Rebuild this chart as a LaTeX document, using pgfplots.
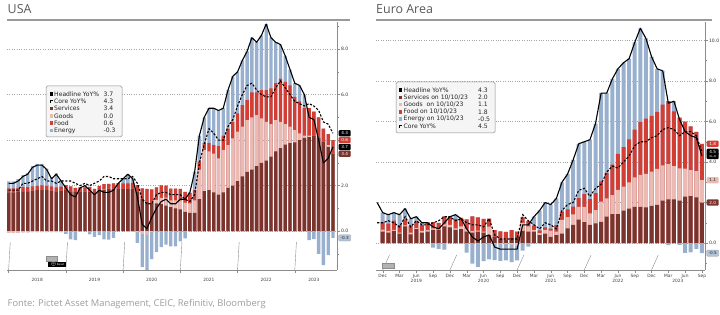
\documentclass[border=0pt]{standalone}
\usepackage{fontspec}
\setmainfont{DejaVu Sans}
\newfontfamily\titlefont{Open Sans}
\usepackage{pgfplots}
\usepackage{pgfplotstable}
\pgfplotsset{compat=1.18}

\definecolor{serv}{HTML}{7A342E}
\definecolor{goods}{HTML}{ECBAB2}
\definecolor{food}{HTML}{D23E34}
\definecolor{energy}{HTML}{98B0CE}
\definecolor{rulegray}{HTML}{9A9A9A}
\definecolor{titlegray}{HTML}{595959}
\definecolor{notegray}{HTML}{9C9C9C}

% USA: contributions to CPI YoY (pp), Dec 2017 (p=0) to Aug 2023 (p=68)
\pgfplotstableread{
p H C S G F E
0 2.1 1.8 1.70 -0.08 0.18 0.30
1 2.1 1.8 1.70 -0.08 0.18 0.30
2 2.2 1.8 1.72 -0.08 0.18 0.38
3 2.4 2.1 1.75 -0.06 0.18 0.53
4 2.5 2.1 1.75 -0.06 0.18 0.63
5 2.8 2.2 1.78 -0.05 0.18 0.89
6 2.9 2.3 1.80 -0.05 0.19 0.96
7 2.9 2.4 1.82 -0.05 0.19 0.94
8 2.7 2.2 1.80 -0.05 0.19 0.76
9 2.3 2.2 1.78 -0.05 0.19 0.38
10 2.5 2.1 1.75 -0.04 0.17 0.62
11 2.2 2.2 1.78 -0.04 0.17 0.29
12 1.9 2.2 1.80 -0.02 0.22 -0.10
13 1.6 2.2 1.75 0.00 0.21 -0.36
14 1.5 2.1 1.72 0.00 0.18 -0.40
15 1.9 2.0 1.72 0.00 0.20 -0.02
16 2.0 2.1 1.72 0.00 0.20 0.08
17 1.8 2.0 1.74 0.00 0.20 -0.14
18 1.6 2.1 1.64 0.00 0.21 -0.25
19 1.8 2.2 1.76 0.00 0.22 -0.18
20 1.7 2.4 1.82 0.02 0.22 -0.36
21 1.7 2.4 1.84 0.02 0.22 -0.38
22 1.8 2.3 1.85 0.00 0.25 -0.30
23 2.1 2.3 1.86 0.00 0.25 -0.01
24 2.3 2.3 1.85 0.00 0.25 0.20
25 2.5 2.3 1.85 -0.02 0.25 0.42
26 2.3 2.4 1.85 -0.02 0.27 0.20
27 1.5 2.1 1.72 -0.05 0.30 -0.47
28 0.3 1.4 1.40 -0.12 0.48 -1.46
29 0.1 1.2 1.30 -0.15 0.55 -1.60
30 0.6 1.2 1.25 -0.05 0.58 -1.18
31 1.0 1.6 1.22 0.15 0.55 -0.92
32 1.3 1.7 1.18 0.28 0.55 -0.71
33 1.4 1.7 1.12 0.35 0.53 -0.60
34 1.2 1.6 1.05 0.30 0.52 -0.67
35 1.2 1.6 1.00 0.35 0.52 -0.67
36 1.4 1.6 0.95 0.40 0.50 -0.45
37 1.4 1.4 0.85 0.40 0.47 -0.32
38 1.7 1.3 0.80 0.42 0.45 0.03
39 2.6 1.6 0.80 0.55 0.45 0.80
40 4.2 3.0 1.40 1.30 0.35 1.15
41 5.0 3.8 1.76 1.80 0.32 1.12
42 5.4 4.5 1.80 1.70 0.38 1.52
43 5.4 4.3 1.70 1.70 0.38 1.62
44 5.3 4.0 1.60 1.60 0.53 1.57
45 5.4 4.0 1.70 1.86 0.64 1.20
46 6.2 4.6 1.90 1.88 0.72 1.70
47 6.8 4.9 2.00 2.07 0.73 2.00
48 7.0 5.5 2.20 2.17 0.80 1.83
49 7.5 6.0 2.40 2.19 0.95 1.96
50 7.9 6.4 2.60 2.28 0.88 2.14
51 8.5 6.5 2.70 2.30 1.10 2.40
52 8.3 6.2 2.85 2.25 1.00 2.20
53 8.6 6.0 3.00 1.95 1.25 2.40
54 9.1 5.9 3.10 1.70 1.40 2.90
55 8.5 5.9 3.27 1.43 1.57 2.23
56 8.3 6.3 3.50 1.38 1.62 1.80
57 8.2 6.6 3.65 1.15 1.90 1.50
58 7.7 6.3 3.80 0.90 1.86 1.14
59 7.1 6.0 3.87 0.72 1.81 0.70
60 6.5 5.7 3.90 0.54 1.46 0.60
61 6.4 5.6 4.00 0.30 1.40 0.70
62 6.0 5.5 4.10 0.10 1.20 0.60
63 5.0 5.6 4.13 0.07 1.20 -0.40
64 4.9 5.5 4.20 0.00 1.05 -0.35
65 4.0 5.3 4.10 0.00 0.90 -1.00
66 3.0 4.8 3.93 0.00 0.57 -1.50
67 3.2 4.7 3.70 0.08 0.48 -1.06
68 3.7 4.3 3.40 0.00 0.60 -0.30
}\usdata

% Euro Area: contributions to HICP YoY (pp), Nov 2018 (m=-1) to Sep 2023 (m=57)
\pgfplotstableread{
m H C S G F E
-1 2.0 1.0 0 0 0 0
0 1.5 1.0 0.56 0.10 0.36 0.48
1 1.4 1.1 0.52 0.08 0.36 0.44
2 1.5 1.0 0.60 0.05 0.46 0.39
3 1.4 0.8 0.47 0.05 0.36 0.52
4 1.7 1.3 0.82 0.05 0.30 0.53
5 1.2 0.8 0.43 0.08 0.32 0.37
6 1.3 1.1 0.69 0.05 0.32 0.24
7 1.0 0.9 0.52 0.08 0.28 0.12
8 1.0 0.9 0.56 0.08 0.38 -0.02
9 0.8 1.0 0.65 0.08 0.30 -0.23
10 0.7 1.1 0.65 0.08 0.26 -0.29
11 1.0 1.3 0.82 0.10 0.40 -0.32
12 1.3 1.3 0.77 0.13 0.40 0.00
13 1.4 1.1 0.65 0.08 0.46 0.21
14 1.2 1.2 0.69 0.13 0.42 -0.04
15 0.7 1.0 0.56 0.13 0.48 -0.47
16 0.3 0.9 0.52 0.08 0.72 -1.02
17 0.1 0.9 0.56 0.05 0.66 -1.17
18 0.3 0.8 0.52 0.05 0.62 -0.89
19 0.4 1.2 0.39 0.42 0.40 -0.81
20 -0.2 0.4 0.30 -0.03 0.34 -0.81
21 -0.3 0.2 0.22 -0.03 0.36 -0.85
22 -0.3 0.2 0.17 -0.03 0.38 -0.82
23 -0.3 0.2 0.26 -0.08 0.38 -0.86
24 -0.3 0.2 0.30 -0.13 0.26 -0.73
25 0.9 1.4 0.60 0.39 0.28 -0.37
26 0.9 1.1 0.56 0.26 0.26 -0.18
27 1.3 0.9 0.56 0.08 0.22 0.44
28 1.6 0.7 0.39 0.10 0.14 0.97
29 2.0 1.0 0.47 0.18 0.12 1.23
30 1.9 0.9 0.30 0.31 0.10 1.19
31 2.2 0.7 0.39 0.18 0.32 1.31
32 3.0 1.6 0.47 0.68 0.40 1.45
33 3.4 1.9 0.73 0.55 0.38 1.74
34 4.1 2.0 0.90 0.52 0.38 2.30
35 4.9 2.6 1.16 0.62 0.44 2.68
36 5.0 2.7 1.03 0.75 0.64 2.58
37 5.1 2.3 0.90 0.57 0.70 2.93
38 5.9 2.7 0.97 0.66 0.84 3.43
39 7.4 2.9 1.05 1.00 1.00 4.35
40 7.4 3.5 1.30 0.90 1.26 3.94
41 8.1 3.8 1.43 0.94 1.50 4.23
42 8.6 3.7 1.43 1.19 1.78 4.20
43 8.9 4.0 1.60 1.18 1.96 4.16
44 9.1 4.3 1.70 1.30 2.12 3.98
45 9.9 4.8 1.79 1.45 2.36 4.30
46 10.6 5.0 1.79 1.57 2.62 4.62
47 10.1 5.0 1.76 1.66 2.72 3.96
48 9.2 5.2 1.83 1.69 2.76 2.92
49 8.6 5.3 1.88 1.78 2.82 2.12
50 8.5 5.6 2.10 1.73 3.00 1.67
51 6.9 5.7 2.16 1.74 3.10 -0.10
52 7.0 5.6 2.16 1.64 2.70 0.50
53 6.1 5.3 2.09 1.60 2.50 -0.09
54 5.5 5.5 2.29 1.38 2.32 -0.49
55 5.3 5.5 2.32 1.28 2.16 -0.46
56 5.2 5.3 2.26 1.29 1.94 -0.29
57 4.3 4.5 2.00 1.10 1.80 -0.50
}\eadata

\pgfplotsset{
  panel/.style={
    scale only axis, height=248bp, clip mode=individual,
    axis x line*=bottom, axis y line*=right,
    axis line style={draw=black!45, line width=0.4bp},
    tick style={draw=black!45, line width=0.4bp},
    tick align=outside, major tick length=3bp, minor tick length=1.5bp,
    ymajorgrids, grid style={dotted, black!35, line width=0.4bp},
    yticklabel style={font=\fontsize{4.6}{5}\selectfont, text=black!80, inner sep=0.8bp},
    xticklabel style={font=\fontsize{4.4}{5}\selectfont, text=black!75, inner sep=0.8bp},
    /pgf/number format/fixed, /pgf/number format/fixed zerofill,
    /pgf/number format/precision=1, /pgf/number format/assume math mode=true,
  },
  seg/.style={ybar, bar shift=0pt, fill=#1, draw=none},
  headline/.style={sharp plot, no markers, black, line width=1.1bp, line join=round},
  coreline/.style={sharp plot, no markers, black, line width=1.1bp, dash pattern=on 2.2bp off 1.6bp},
}
\tikzset{
  tag/.style={anchor=west, rounded corners=1bp, inner sep=0pt, minimum width=12bp,
    minimum height=6.3bp, font=\fontsize{4.2}{4.5}\selectfont, text=white, xshift=1.5bp},
  lgtext/.style={anchor=west, inner sep=0pt, font=\fontsize{6.1}{7}\selectfont, text=black!85},
  yearlab/.style={font=\fontsize{4.4}{5}\selectfont, text=black!75},
}

\begin{document}
\begin{tikzpicture}
\path[use as bounding box] (0bp,0bp) rectangle (720bp,315bp);

% ---------------- USA ----------------
\begin{axis}[panel, at={(7bp,45bp)}, anchor=south west, width=330bp,
  xmin=-0.34, xmax=68.85, ymin=-1.71, ymax=9.19,
  ytick={0,2,4,6,8}, minor ytick={-1,1,3,5,7,9},
  xtick={0,12,24,36,48,60}, xticklabels={}]
  \addplot[seg=energy, bar width=0.7] table[x=p, y expr={\thisrow{S}+max(\thisrow{G},0)+\thisrow{F}+max(\thisrow{E},0)}] {\usdata};
  \addplot[seg=food, bar width=0.7] table[x=p, y expr={\thisrow{S}+max(\thisrow{G},0)+\thisrow{F}}] {\usdata};
  \addplot[seg=goods, bar width=0.7] table[x=p, y expr={\thisrow{S}+max(\thisrow{G},0)}] {\usdata};
  \addplot[seg=serv, bar width=0.7] table[x=p, y=S] {\usdata};
  \addplot[seg=energy, bar width=0.7] table[x=p, y expr={min(\thisrow{G},0)+min(\thisrow{E},0)}] {\usdata};
  \addplot[seg=goods, bar width=0.7] table[x=p, y expr={min(\thisrow{G},0)}] {\usdata};
  \addplot[coreline] table[x=p, y=C] {\usdata};
  \addplot[headline] table[x=p, y=H] {\usdata};
  % year separators and labels
  \pgfplotsinvokeforeach{0,12,24,36,48,60}{
    \draw[black!45, line width=0.4bp] (axis cs:#1,-1.71) -- ++(0,-12bp);}
  \node[yearlab] at (axis cs:6,-1.71) [yshift=-10bp] {2018};
  \node[yearlab] at (axis cs:18,-1.71) [yshift=-10bp] {2019};
  \node[yearlab] at (axis cs:30,-1.71) [yshift=-10bp] {2020};
  \node[yearlab] at (axis cs:42,-1.71) [yshift=-10bp] {2021};
  \node[yearlab] at (axis cs:54,-1.71) [yshift=-10bp] {2022};
  \node[yearlab] at (axis cs:64,-1.71) [yshift=-10bp] {2023};
  % last-value tags
  \node[tag, fill=goods, text=black] at (axis cs:68.85,3.4) {0.0};
  \node[tag, fill=serv] at (axis cs:68.85,3.4) {3.4};
  \node[tag, fill=black] at (axis cs:68.85,3.7) {3.7};
  \node[tag, fill=food] at (axis cs:68.85,4.0) {0.6};
  \node[tag, fill=black] at (axis cs:68.85,4.3) {4.3};
  \node[tag, fill=energy!75!white, draw=black!40, line width=0.3bp, text=black!85] at (axis cs:68.85,-0.3) {-0.3};
\end{axis}

% ---------------- Euro Area ----------------
\begin{axis}[panel, at={(376bp,45bp)}, anchor=south west, width=329bp,
  xmin=-1.2, xmax=57.55, ymin=-1.33, ymax=10.91,
  ytick={0,2,4,6,8,10}, minor ytick={-1,1,3,5,7,9},
  xtick={0,3,...,57},
  xticklabels={Dec,Mar,Jun,Sep,Dec,Mar,Jun,Sep,Dec,Mar,Jun,Sep,Dec,Mar,Jun,Sep,Dec,Mar,Jun,Sep}]
  \addplot[seg=energy, bar width=0.72, restrict x to domain=0:60] table[x=m, y expr={\thisrow{S}+max(\thisrow{G},0)+\thisrow{F}+max(\thisrow{E},0)}] {\eadata};
  \addplot[seg=food, bar width=0.72, restrict x to domain=0:60] table[x=m, y expr={\thisrow{S}+max(\thisrow{G},0)+\thisrow{F}}] {\eadata};
  \addplot[seg=goods, bar width=0.72, restrict x to domain=0:60] table[x=m, y expr={\thisrow{S}+max(\thisrow{G},0)}] {\eadata};
  \addplot[seg=serv, bar width=0.72, restrict x to domain=0:60] table[x=m, y=S] {\eadata};
  \addplot[seg=energy, bar width=0.72, restrict x to domain=0:60] table[x=m, y expr={min(\thisrow{G},0)+min(\thisrow{E},0)}] {\eadata};
  \addplot[seg=goods, bar width=0.72, restrict x to domain=0:60] table[x=m, y expr={min(\thisrow{G},0)}] {\eadata};
  \addplot[coreline] table[x=m, y=C] {\eadata};
  \addplot[headline] table[x=m, y=H] {\eadata};
  \pgfplotsinvokeforeach{0,12,24,36,48}{
    \draw[black!45, line width=0.4bp] (axis cs:#1,-1.33) -- ++(0,-12bp);}
  \node[yearlab] at (axis cs:6,-1.33) [yshift=-10.5bp] {2019};
  \node[yearlab] at (axis cs:18,-1.33) [yshift=-10.5bp] {2020};
  \node[yearlab] at (axis cs:30,-1.33) [yshift=-10.5bp] {2021};
  \node[yearlab] at (axis cs:42,-1.33) [yshift=-10.5bp] {2022};
  \node[yearlab] at (axis cs:52.7,-1.33) [yshift=-10.5bp] {2023};
  \node[tag, fill=serv] at (axis cs:57.55,2.0) {2.0};
  \node[tag, fill=goods, text=black!85] at (axis cs:57.55,3.1) {1.1};
  \node[tag, fill=black] at (axis cs:57.55,4.3) {4.3};
  \node[tag, fill=black] at (axis cs:57.55,4.5) {4.5};
  \node[tag, fill=food] at (axis cs:57.55,4.9) {1.8};
  \node[tag, fill=energy!75!white, draw=black!40, line width=0.3bp, text=black!85] at (axis cs:57.55,-0.5) {-0.5};
\end{axis}

\begin{scope}[x=1bp, y=1bp]
% ---------------- titles, rules, source ----------------
\node[anchor=base west, inner sep=0, font=\titlefont\fontsize{12.5}{13}\selectfont, text=titlegray] at (7.5,301.8) {USA};
\node[anchor=base west, inner sep=0, font=\titlefont\fontsize{12.5}{13}\selectfont, text=titlegray] at (376,301.8) {Euro Area};
\draw[rulegray, line width=1.4bp] (7,295) -- (350,295);
\draw[rulegray, line width=1.4bp] (376,295) -- (712,295);
\node[anchor=base west, inner sep=0, font=\titlefont\fontsize{9.4}{10}\selectfont, text=notegray] at (7.5,8.3) {Fonte: Pictet Asset Management, CEIC, Refinitiv, Bloomberg};

% ---------------- legends ----------------
\draw[black!45, fill=black!4, rounded corners=1.5bp, line width=0.5bp] (46,178) rectangle (122,229);
\fill[black] (49.5,219.3) rectangle ++(3.4,3.4);
\node[lgtext] at (54,221) {Headline YoY\%};  \node[lgtext] at (103.5,221) {3.7};
\draw[black, line width=0.5bp, dash pattern=on 0.7bp off 0.6bp] (50,212) -- (50,215.2) -- (53,215.2);
\node[lgtext] at (54,213.7) {Core YoY\%};     \node[lgtext] at (103.5,213.7) {4.3};
\fill[serv] (49.5,204.7) rectangle ++(3.4,3.4);
\node[lgtext] at (54,206.4) {Services};      \node[lgtext] at (103.5,206.4) {3.4};
\fill[goods] (49.5,197.4) rectangle ++(3.4,3.4);
\node[lgtext] at (54,199.1) {Goods};         \node[lgtext] at (103.5,199.1) {0.0};
\fill[food] (49.5,190.1) rectangle ++(3.4,3.4);
\node[lgtext] at (54,191.8) {Food};          \node[lgtext] at (103.5,191.8) {0.6};
\fill[energy] (49.5,182.8) rectangle ++(3.4,3.4);
\node[lgtext] at (54,184.5) {Energy};        \node[lgtext] at (103.5,184.5) {-0.3};

\draw[black!45, fill=black!4, rounded corners=1.5bp, line width=0.5bp] (396,182) rectangle (495,233);
\fill[black] (398.5,223.3) rectangle ++(3.4,3.4);
\node[lgtext] at (403.5,225) {Headline YoY\%};          \node[lgtext] at (478,225) {4.3};
\fill[serv] (398.5,216) rectangle ++(3.4,3.4);
\node[lgtext] at (403.5,217.7) {Services on 10/10/23};   \node[lgtext] at (478,217.7) {2.0};
\fill[goods] (398.5,208.7) rectangle ++(3.4,3.4);
\node[lgtext] at (403.5,210.4) {Goods~ on 10/10/23};     \node[lgtext] at (478,210.4) {1.1};
\fill[food] (398.5,201.4) rectangle ++(3.4,3.4);
\node[lgtext] at (403.5,203.1) {Food on 10/10/23};       \node[lgtext] at (478,203.1) {1.8};
\fill[energy] (398.5,194.1) rectangle ++(3.4,3.4);
\node[lgtext] at (403.5,195.8) {Energy on 10/10/23};     \node[lgtext] at (478,195.8) {-0.5};
\draw[black, line width=0.5bp, dash pattern=on 0.7bp off 0.6bp] (399,186.8) -- (399,190) -- (402,190);
\node[lgtext] at (403.5,188.5) {Core YoY\%};             \node[lgtext] at (478,188.5) {4.5};

% ---------------- chart controls ----------------
\draw[black!45, fill=black!30, line width=0.3bp] (46,54) rectangle (57.3,59);
\fill[black] (47.7,47.7) rectangle (65.7,53.3);
\node[inner sep=0, font=\fontsize{2.6}{3}\selectfont, text=white] at (57.5,50.5) {$\oplus$ Reset};
\draw[black!45, fill=black!30, line width=0.3bp] (382.3,46.7) rectangle (394,52.3);
\end{scope}
\end{tikzpicture}
\end{document}
